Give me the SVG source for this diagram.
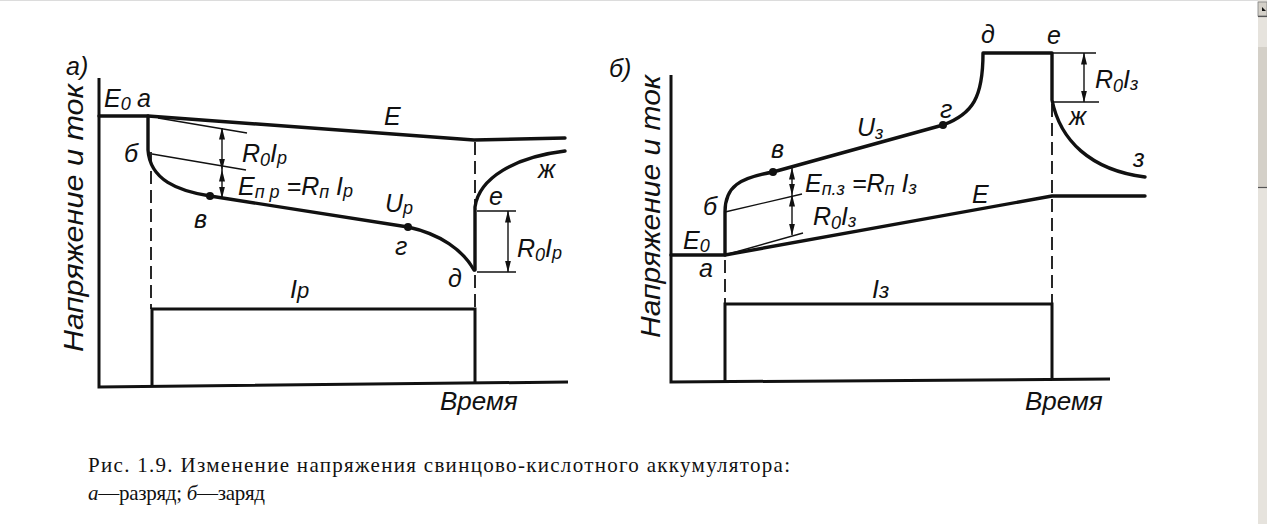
<svg xmlns="http://www.w3.org/2000/svg" width="1267" height="524" viewBox="0 0 1267 524">
<style>
.thick{fill:none;stroke:#111;stroke-width:3.4;stroke-linejoin:round;stroke-linecap:round}
.axis{fill:none;stroke:#111;stroke-width:3}
.thin{fill:none;stroke:#111;stroke-width:1.4}
.dash{fill:none;stroke:#111;stroke-width:1.8;stroke-dasharray:13 6}
.dim{fill:none;stroke:#111;stroke-width:1.4;marker-start:url(#ah);marker-end:url(#ah)}
.lbl{font-family:"Liberation Sans",Arial,sans-serif;font-style:italic;font-size:25px;fill:#111}
.sub{font-size:18px}
.ylab{font-family:"Liberation Sans",Arial,sans-serif;font-style:italic;font-size:28px;fill:#111}
.cap{font-family:"Liberation Serif","Times New Roman",serif;font-size:21px;fill:#111}
</style>
<defs>
<marker id="ah" viewBox="0 0 12 6" refX="11.5" refY="3" markerWidth="12" markerHeight="6" markerUnits="userSpaceOnUse" orient="auto-start-reverse">
<path d="M0,0 L12,3 L0,6 Z" fill="#111"/>
</marker>
</defs>
<rect width="1267" height="524" fill="#fff"/>
<line x1="0" y1="0.5" x2="1258" y2="0.5" stroke="#dcdcdc" stroke-width="1"/>

<g id="panel-a">
  <path class="axis" d="M99,78 V387 L568,382"/>
  <path id="a-E" class="thick" d="M99,116 H148 L474,140 L565,138"/>
  <path id="a-U" class="thick" d="M148,116 V150 C150,180 178,191 210,196 L408,227 C440,234 463,250 474,270"/>
  <path id="a-rec" class="thick" d="M475,270 V207 C479,178 515,157 565,151"/>
  <path id="a-I" class="axis" d="M152,386 V309 H475 V382"/>
  <path class="dash" d="M151,152 V309"/>
  <path class="dash" d="M475,142 V309"/>
  <path class="thin" d="M158,118 L247,133"/>
  <path class="thin" d="M152,154 L246,170"/>
  <path class="thin" d="M477,211 H516"/>
  <path class="thin" d="M477,272 H516"/>
  <circle cx="210" cy="196" r="4" fill="#111"/>
  <circle cx="408" cy="227" r="4" fill="#111"/>
  <text class="lbl" x="66" y="75">а)</text>
  <text class="ylab" transform="translate(83,352) rotate(-90)" textLength="268" lengthAdjust="spacingAndGlyphs">Напряжение и ток</text>
  <text class="lbl" x="104" y="107">E<tspan class="sub" dy="3">0</tspan></text>
  <text class="lbl" x="137" y="107">а</text>
  <text class="lbl" x="124" y="162">б</text>
  <text class="lbl" x="194" y="228">в</text>
  <text class="lbl" x="242" y="162">R<tspan class="sub" dy="4">0</tspan><tspan dy="-4">I</tspan><tspan class="sub" dy="2">р</tspan></text>
  <text class="lbl" x="238" y="195">E<tspan class="sub" dy="3">п р</tspan><tspan dy="-3"> =R</tspan><tspan class="sub" dy="3">п</tspan><tspan dy="-3"> I</tspan><tspan class="sub" dy="2">р</tspan></text>
  <text class="lbl" x="384" y="125">E</text>
  <text class="lbl" x="385" y="212">U<tspan class="sub" dy="2">р</tspan></text>
  <text class="lbl" x="395" y="255">г</text>
  <text class="lbl" x="448" y="287">д</text>
  <text class="lbl" x="489" y="205">е</text>
  <text class="lbl" x="538" y="178">ж</text>
  <text class="lbl" x="517" y="257">R<tspan class="sub" dy="4">0</tspan><tspan dy="-4">I</tspan><tspan class="sub" dy="2">р</tspan></text>
  <text class="lbl" x="290" y="298">I<tspan style="font-size:22px">р</tspan></text>
  <text class="lbl" x="440" y="410" style="font-size:26px">Время</text>
</g>

<g id="panel-b">
  <path class="axis" d="M671,75 V382 L1110,379"/>
  <path id="b-E" class="thick" d="M671,255 H725 L1052,196 H1145"/>
  <path id="b-U" class="thick" d="M725,255 V212 C725,186 740,178 773,172 L943,125 C973,114 983,97 983,53 H1052 V100 C1060,140 1090,170 1145,177"/>
  <path id="b-I" class="axis" d="M725,381 V304 H1052 V379"/>
  <path class="dash" d="M725,260 V304"/>
  <path class="dash" d="M1052,104 V303"/>
  <path class="thin" d="M725,212 L802,194"/>
  <path class="thin" d="M725,255 L803,233"/>
  <path class="thin" d="M1052,53 H1096"/>
  <path class="thin" d="M1052,102 H1099"/>
  <circle cx="773" cy="172" r="4" fill="#111"/>
  <circle cx="943" cy="125" r="4" fill="#111"/>
  <text class="lbl" x="609" y="77">б)</text>
  <text class="ylab" transform="translate(660,338) rotate(-90)" textLength="263" lengthAdjust="spacingAndGlyphs">Напряжение и ток</text>
  <text class="lbl" x="771" y="158">в</text>
  <text class="lbl" x="703" y="215">б</text>
  <text class="lbl" x="683" y="249">E<tspan class="sub" dy="3">0</tspan></text>
  <text class="lbl" x="699" y="277">а</text>
  <text class="lbl" x="857" y="136">U<tspan class="sub" dy="3">з</tspan></text>
  <text class="lbl" x="805" y="192">E<tspan class="sub" dy="3">п.з</tspan><tspan dy="-3"> =R</tspan><tspan class="sub" dy="3">п</tspan><tspan dy="-3"> I</tspan><tspan class="sub" dy="2">з</tspan></text>
  <text class="lbl" x="813" y="225">R<tspan class="sub" dy="4">0</tspan><tspan dy="-4">I</tspan><tspan class="sub" dy="2">з</tspan></text>
  <text class="lbl" x="940" y="118">г</text>
  <text class="lbl" x="981" y="43">д</text>
  <text class="lbl" x="1047" y="44">е</text>
  <text class="lbl" x="1095" y="88">R<tspan class="sub" dy="4">0</tspan><tspan dy="-4">I</tspan><tspan class="sub" dy="2">з</tspan></text>
  <text class="lbl" x="1069" y="125">ж</text>
  <text class="lbl" x="1133" y="167">з</text>
  <text class="lbl" x="972" y="203">E</text>
  <text class="lbl" x="872" y="298">I<tspan style="font-size:22px">з</tspan></text>
  <text class="lbl" x="1025" y="410" style="font-size:26px">Время</text>
</g>

<g id="connectors">
  <line class="dim" x1="222" y1="128" x2="222" y2="170"/>
  <line class="dim" x1="222" y1="170" x2="222" y2="198"/>
  <line class="dim" x1="508" y1="211" x2="508" y2="272"/>
  <line class="dim" x1="792" y1="168" x2="792" y2="195"/>
  <line class="dim" x1="792" y1="195" x2="792" y2="235"/>
  <line class="dim" x1="1084" y1="53" x2="1084" y2="102"/>
</g>

<g id="caption">
  <text class="cap" x="88" y="472" textLength="702" lengthAdjust="spacing">Рис. 1.9. Изменение напряжения свинцово-кислотного аккумулятора:</text>
  <text class="cap" x="88" y="500" textLength="177" lengthAdjust="spacing"><tspan font-style="italic">а</tspan>—разряд; <tspan font-style="italic">б</tspan>—заряд</text>
</g>

<g id="scrollbar">
  <rect x="1258" y="0" width="9" height="524" fill="#e6e3dd"/>
  <rect x="1258" y="2" width="9" height="14" fill="#d4d0c8" stroke="#808080" stroke-width="0.8"/>
  <path d="M1262,7 L1266,11 L1262,11 Z" fill="#111"/>
  <rect x="1258" y="47" width="9" height="141" fill="#d4d0c8"/>
  <line x1="1258" y1="187.5" x2="1267" y2="187.5" stroke="#555" stroke-width="1.2"/>
  <line x1="1258" y1="16.5" x2="1267" y2="16.5" stroke="#555" stroke-width="1.2"/>
</g>
</svg>
